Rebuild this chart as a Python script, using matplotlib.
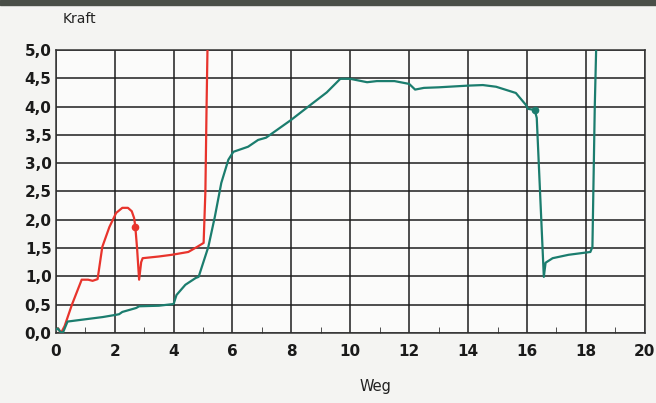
import matplotlib.pyplot as plt
from matplotlib.ticker import MultipleLocator
from matplotlib.patches import Rectangle

# Weg / Kraft of the red sample
red_weg = [0.0, 0.08, 0.18, 0.3, 0.55, 0.88, 1.1, 1.25, 1.42, 1.58, 1.82, 2.05,
           2.26, 2.45, 2.58, 2.66, 2.7, 2.76, 2.83, 2.9, 2.95, 3.5, 3.94, 4.5,
           4.8, 5.02, 5.08, 5.12, 5.16]
red_kraft = [0.05, 0.08, 0.0, 0.12, 0.5, 0.94, 0.94, 0.92, 0.95, 1.52, 1.87, 2.12,
             2.21, 2.21, 2.15, 2.03, 1.88, 1.5, 0.94, 1.25, 1.32, 1.35, 1.38, 1.43,
             1.52, 1.59, 2.5, 4.0, 5.3]
red_mark = (2.68, 1.88)

# Weg / Kraft of the green sample
green_weg = [0.0, 0.07, 0.15, 0.24, 0.4, 1.0, 1.6, 2.05, 2.15, 2.26, 2.73, 2.83,
             3.5, 4.0, 4.1, 4.4, 4.75, 4.85, 5.18, 5.4, 5.62, 5.86, 6.03, 6.53,
             6.87, 7.14, 7.98, 8.65, 9.2, 9.66, 10.0, 10.57, 10.9, 11.5, 12.0,
             12.2, 12.5, 13.0, 14.0, 14.5, 14.95, 15.62, 15.96, 16.03, 16.26,
             16.33, 16.57, 16.63, 16.87, 17.41, 18.15, 18.22, 18.3, 18.36]
green_kraft = [0.05, 0.08, 0.02, 0.0, 0.2, 0.24, 0.28, 0.32, 0.33, 0.37, 0.44, 0.47,
               0.48, 0.51, 0.67, 0.85, 0.97, 0.99, 1.52, 2.05, 2.65, 3.06, 3.2, 3.29,
               3.41, 3.45, 3.76, 4.03, 4.25, 4.49, 4.49, 4.43, 4.45, 4.45, 4.4,
               4.3, 4.33, 4.34, 4.37, 4.38, 4.35, 4.24, 4.03, 3.96, 3.94,
               3.8, 0.99, 1.24, 1.32, 1.38, 1.43, 1.52, 4.0, 5.3]
green_mark = (16.27, 3.94)

x_ticks = list(range(0, 21, 2))
y_ticks = [i * 0.5 for i in range(11)]
y_labels = [f"{v:.1f}".replace(".", ",") for v in y_ticks]

RED = "#e8342c"
GREEN = "#1b7d6e"

fig = plt.figure(figsize=(6.56, 4.03), dpi=100, facecolor="#f4f4f2")
ax = fig.add_axes([0.085, 0.174, 0.898, 0.702])
ax.set_facecolor("#fbfbfa")

ax.plot(red_weg, red_kraft, color=RED, lw=1.6, zorder=3)
ax.plot(green_weg, green_kraft, color=GREEN, lw=1.6, zorder=3)
ax.plot(*red_mark, "o", color=RED, ms=4.5, zorder=4)
ax.plot(*green_mark, "o", color=GREEN, ms=4.5, zorder=4)

ax.set_xlim(0, 20)
ax.set_ylim(0, 5)
ax.set_xticks(x_ticks)
ax.set_yticks(y_ticks)
ax.set_yticklabels(y_labels)
ax.xaxis.set_minor_locator(MultipleLocator(1))
ax.grid(True, which="major", color="#1e1e1e", lw=1.1)
ax.tick_params(which="major", length=0, labelsize=11, pad=8)
ax.tick_params(which="minor", direction="in", length=4, color="#333")
for lab in ax.get_xticklabels() + ax.get_yticklabels():
    lab.set_fontweight("bold")
    lab.set_color("#1a1a1a")
ax.tick_params(axis="y", pad=3)
for s in ax.spines.values():
    s.set_color("#333")
    s.set_linewidth(1.1)

fig.text(0.096, 0.943, "Kraft", fontsize=10, color="#222")
fig.text(0.572, 0.03, "Weg", fontsize=10.5, color="#222", ha="center")

# dark band at the top edge of the scan
fig.patches.append(Rectangle((0, 0.988), 1, 0.012, transform=fig.transFigure,
                             color="#4a4f48", zorder=0))

fig.savefig("out.png", dpi=100, facecolor=fig.get_facecolor())
